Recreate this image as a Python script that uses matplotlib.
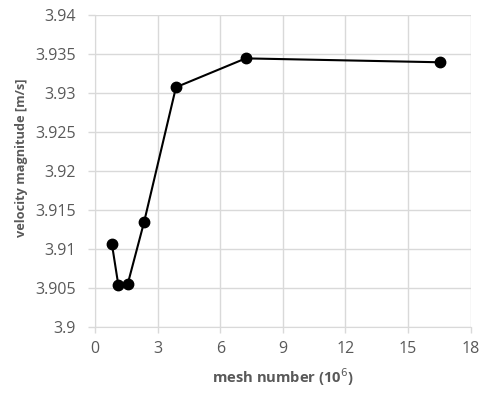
import matplotlib
matplotlib.use("Agg")
import matplotlib.pyplot as plt

mesh = [0.81, 1.12, 1.57, 2.35, 3.88, 7.22, 16.53]
velocity = [3.9106, 3.9053, 3.9055, 3.9134, 3.9307, 3.9344, 3.9339]
xticks = [0, 3, 6, 9, 12, 15, 18]
yticks = [3.9, 3.905, 3.91, 3.915, 3.92, 3.925, 3.93, 3.935, 3.94]
ytick_labels = ["3.9", "3.905", "3.91", "3.915", "3.92", "3.925", "3.93", "3.935", "3.94"]

plt.rcParams['font.family'] = ['Open Sans', 'DejaVu Sans']
fig = plt.figure(figsize=(4.81, 3.94), dpi=100)
ax = fig.add_axes([0.1975, 0.1708, 0.7811, 0.7919])
grid_c = '#d9d9d9'
text_c = '#595959'
ax.plot(mesh, velocity, color='black', lw=1.5, marker='o', ms=7.5, zorder=3)
ax.set_xlim(0, 18)
ax.set_ylim(3.9, 3.94)
ax.set_xticks(xticks)
ax.set_yticks(yticks)
ax.set_yticklabels(ytick_labels)
ax.grid(True, color=grid_c, lw=1)
for s in ax.spines.values():
    s.set_color(grid_c)
ax.spines['top'].set_visible(False)
ax.spines['right'].set_visible(False)
ax.tick_params(axis='both', colors=grid_c, labelcolor=text_c, labelsize=11.5, width=1)
ax.tick_params(axis='x', pad=6, length=4)
ax.tick_params(axis='y', pad=9, length=5)
ax.set_xlabel('mesh number (10$^6$)', fontsize=10.6, fontweight='bold', color=text_c, labelpad=7)
ax.set_ylabel('velocity magnitude [m/s]', fontsize=9.2, fontweight='bold', color=text_c)
ax.yaxis.set_label_coords(-0.178, 0.54)
ax.set_axisbelow(True)
fig.savefig('out.png', dpi=100)
